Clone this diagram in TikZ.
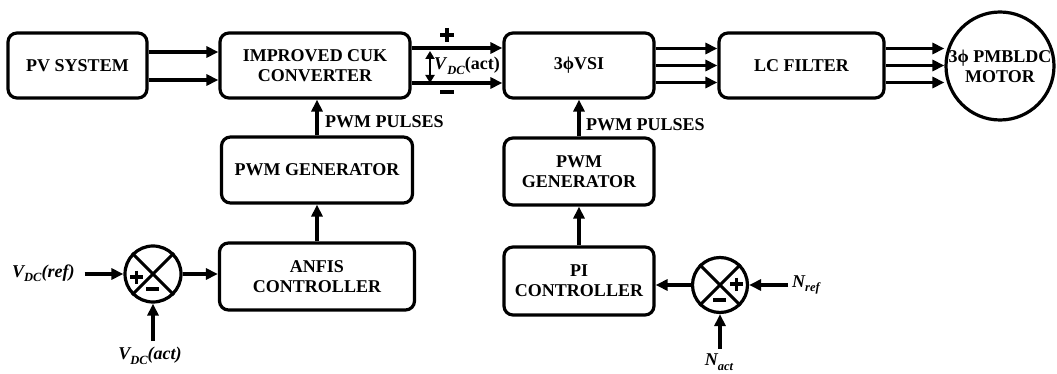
\documentclass[tikz,border=0pt]{standalone}
\usepackage{fontspec}
\setmainfont{Liberation Serif}
\usetikzlibrary{arrows.meta,calc}
\newcommand{\mysub}[1]{\raisebox{-4.5pt}{\fontsize{12.5}{12}\selectfont #1}}
\begin{document}
\begin{tikzpicture}[x=1pt,y=-1pt,
  box/.style={draw,line width=3.2pt,rounded corners=9pt,align=center,
    font=\fontsize{18}{20}\selectfont\bfseries,inner sep=0pt},
  arr/.style={line width=3.1pt,-{Triangle[length=12pt,width=11pt]}},
  sumj/.style={draw,circle,line width=3.2pt,inner sep=0pt,minimum size=56pt},
  lbl/.style={font=\fontsize{18}{20}\selectfont\bfseries,inner sep=0pt},
  sgn/.style={line width=3.3pt},
]
\useasboundingbox (0,0) rectangle (1057,374);

% top row
\node[box,minimum width=139pt,minimum height=65pt] (pv) at (77.5,65.5) {PV SYSTEM};
\node[box,minimum width=190pt,minimum height=65pt] (cuk) at (315,65.5) {IMPROVED CUK\\CONVERTER};
\node[box,minimum width=150pt,minimum height=65pt] (vsi) at (579,65.5) {3ϕVSI};
\node[box,minimum width=165pt,minimum height=65pt] (lc) at (801.5,65.5) {LC FILTER};
\node[draw,circle,line width=3.2pt,minimum size=108pt,inner sep=0pt,align=center,
  font=\fontsize{18}{20}\selectfont\bfseries] (motor) at (1000,66) {3ϕ PMBLDC\\MOTOR};

% lower left
\node[box,minimum width=191pt,minimum height=66pt] (pwmA) at (317,170) {PWM GENERATOR};
\node[box,minimum width=195pt,minimum height=67pt] (anfis) at (317,276.5) {ANFIS\\CONTROLLER};
\node[sumj] (s1) at (153,274) {};

% lower right
\node[box,minimum width=150pt,minimum height=67pt] (pwmB) at (579,171.5) {PWM\\GENERATOR};
\node[box,minimum width=150pt,minimum height=68pt] (pi) at (579,281) {PI\\CONTROLLER};
\node[sumj,minimum size=55pt] (s2) at (720,285) {};

% top arrows
\draw[arr] ([yshift=13.5pt]pv.east) -- ([yshift=13.5pt]cuk.west);
\draw[arr] ([yshift=-14.5pt]pv.east) -- ([yshift=-14.5pt]cuk.west);
\draw[arr] ([yshift=17.5pt]cuk.east) -- ([yshift=17.5pt]vsi.west);
\draw[arr] ([yshift=-17.5pt]cuk.east) -- ([yshift=-17.5pt]vsi.west);
\foreach \s in {17,0,-17}{
  \draw[arr] ([yshift=\s pt]vsi.east) -- ([yshift=\s pt]lc.west);
  \draw[arr] ([yshift=\s pt]lc.east) -- ([yshift=\s pt]lc.east -| motor.west);
}

% V_DC(act) indicator
\coordinate (va) at (430,51);
\coordinate (vb) at (430,83);
\draw[line width=2.6pt,{Triangle[length=8pt,width=9pt]}-{Triangle[length=8pt,width=9pt]}] (va) -- (vb);
\node[lbl,anchor=west] (vdc) at (434,66) {\textit{V}\mysub{\textit{DC}}(act)};
\draw[sgn] (440,35) -- (454,35) (447,28) -- (447,42);
\draw[sgn] (440,92) -- (454,92);

% vertical arrows
\draw[arr] (pwmA.north) -- (pwmA.north |- cuk.south);
\node[lbl,anchor=west] (pp1) at (325,122) {PWM PULSES};
\draw[arr] (anfis.north -| pwmA.north) -- (pwmA.south);
\draw[arr] (pwmB.north) -- (pwmB.north |- vsi.south);
\node[lbl,anchor=west] (pp2) at (586,125) {PWM PULSES};
\draw[arr] (pi.north) -- (pwmB.south);

% left summing junction
\draw[line width=3pt] (s1.north west) -- (s1.south east) (s1.north east) -- (s1.south west);
\draw[sgn] (130,277) -- (143,277) (136.5,270.5) -- (136.5,283.5);
\draw[sgn] (146,289) -- (159,289);
\node[lbl,anchor=west] (vref) at (12,273) {\textit{V\mysub{DC}(ref)}};
\draw[arr] ([xshift=10pt]vref.east |- s1.west) -- (s1.west);
\draw[arr] (s1.east) -- (s1.east -| anfis.west);
\node[lbl] (vact) at (150,356) {\textit{V\mysub{DC}(act)}};
\draw[arr] ([yshift=6pt]vact.north -| s1.south) -- (s1.south);

% right summing junction
\draw[line width=3pt] (s2.north west) -- (s2.south east) (s2.north east) -- (s2.south west);
\draw[sgn] (730,284) -- (743,284) (736.5,277.5) -- (736.5,290.5);
\draw[sgn] (713,300) -- (726,300);
\node[lbl,anchor=west] (nref) at (792,285) {\textit{N\mysub{ref}}};
\draw[arr] ([xshift=-4pt]nref.west) -- (s2.east);
\draw[arr] (s2.west) -- (s2.west -| pi.east);
\node[lbl] (nact) at (719,362) {\textit{N\mysub{act}}};
\draw[arr] ([yshift=5pt]nact.north -| s2.south) -- (s2.south);
\end{tikzpicture}
\end{document}
